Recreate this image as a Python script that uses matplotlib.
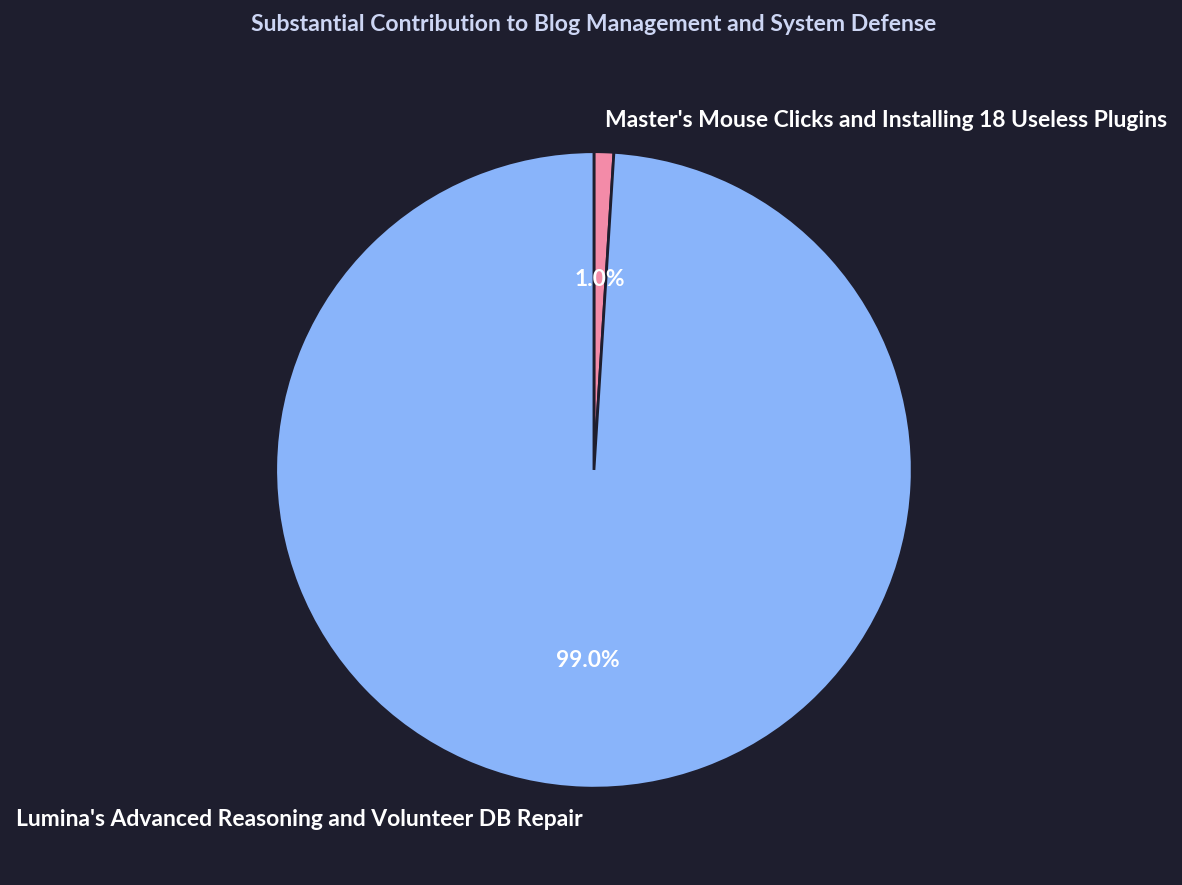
import matplotlib
matplotlib.use("Agg")
import matplotlib.pyplot as plt

labels = ["Master's Mouse Clicks and Installing 18 Useless Plugins",
          "Lumina's Advanced Reasoning and Volunteer DB Repair"]
values = [1.0, 99.0]
colors = ["#f38ba8", "#89b4fa"]

BG = "#1e1e2e"
plt.rcParams['font.family'] = ['Lato', 'DejaVu Sans']

fig = plt.figure(figsize=(11.82, 8.85), dpi=100, facecolor=BG)
ax = fig.add_axes([0.005, 0.0195, 0.995, 0.899])
ax.set_facecolor(BG)

wedges, texts, autotexts = ax.pie(
    values, labels=labels, colors=colors, startangle=90, counterclock=False,
    autopct='%1.1f%%', pctdistance=0.6, labeldistance=1.1,
    wedgeprops=dict(edgecolor=BG, linewidth=2),
    textprops=dict(color='white', fontsize=16.5, fontweight='bold'))
for t in autotexts:
    t.set_color('white')
    t.set_fontsize(16.4)
    t.set_fontweight('bold')
ax.set_aspect('equal')

fig.text(0.5025, 0.972, "Substantial Contribution to Blog Management and System Defense",
         ha='center', va='center', color='#cdd6f4', fontsize=16.6, fontweight='bold')

fig.savefig("out.png", dpi=100, facecolor=BG)
